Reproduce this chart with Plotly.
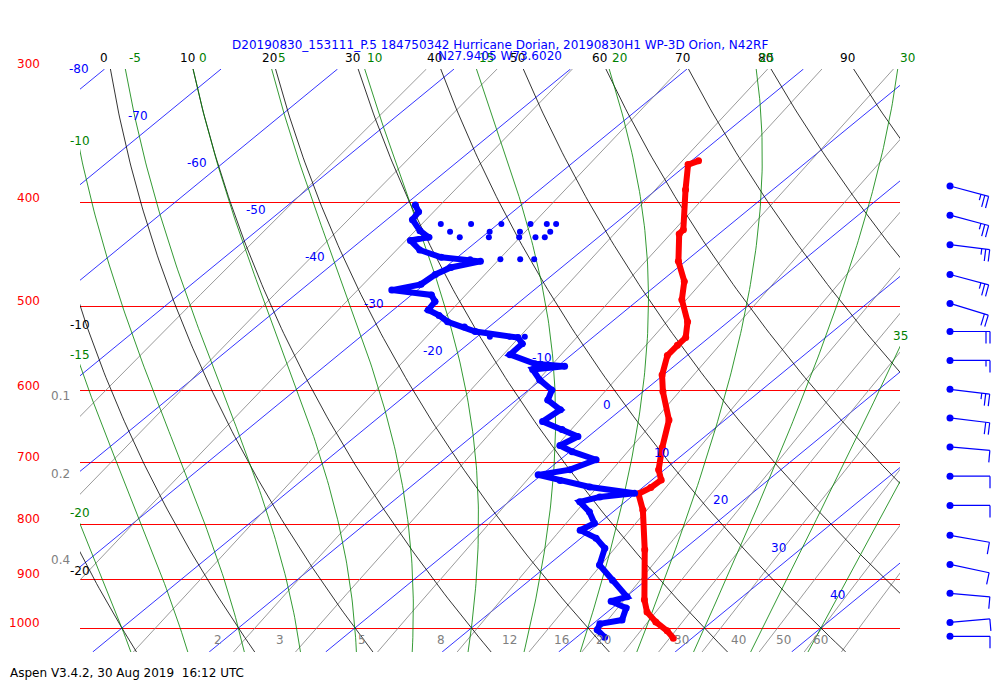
import numpy as np
import plotly.graph_objects as go

# ---- sounding data ----
temp_p = [365.6, 368.6, 389, 424, 428, 454, 474, 493, 517, 535, 544, 556, 580, 601, 639, 678,
          711, 727, 739, 749, 776, 845, 941, 966, 987, 1006, 1022]
temp_c = [-19.4, -19.9, -17.5, -13.5, -13.4, -10.6, -8.0, -6.3, -3.5, -2.0, -1.9, -1.7, -0.1, 1.7,
          5.2, 7.5, 9.5, 10.8, 10.7, 10.3, 12.4, 16.7, 21.9, 23.4, 25.2, 27.1, 28.4]

dewp_p = [1020, 1004, 991, 983, 958, 944, 935, 902, 873, 842, 824, 810, 798, 779, 762, 754, 748,
          738, 728, 719, 711, 696, 684, 675, 662, 652, 641, 625, 612, 599, 586, 573, 569, 566,
          555, 542, 535, 528, 523, 517, 510, 504, 495, 488, 483, 477, 467, 460, 454, 450,
          443, 434, 431, 425, 415, 408, 402]
dewp_c = [22.4, 21.0, 20.6, 22.1, 21.2, 19.2, 20.1, 17.1, 14.4, 13.1, 11.3, 9.1, 9.6, 8.0, 6.1,
          7.3, 9.9, 5.4, 2.2, -0.3, 1.9, 3.1, 0.2, -1.5, -0.9, -3.0, -5.5, -5.2, -7.3, -8.0, -10.1,
          -11.8, -9.4, -12.2, -15.3, -15.4, -16.4, -20.7, -22.1, -24.1, -25.5, -27.0, -27.3, -28.3,
          -32.2, -30.3, -30.1, -29.5, -27.6, -31.4, -34.0, -35.8, -34.6, -36.0, -37.8, -38.1, -39.1]

# scattered dewpoint samples in the dry layers
dots_p = [419, 419, 419, 419, 419, 419, 426, 426, 426, 426, 431, 431, 431, 431, 431, 431,
          452, 452, 452, 452, 534, 534, 534, 569]
dots_c = [-34.9, -32.3, -29.7, -27.2, -25.8, -25.0, -33.3, -29.9, -27.3, -24.7, -34.5, -31.9,
          -29.4, -26.8, -25.4, -24.6, -28.7, -26.1, -24.4, -23.2, -18.9, -17.2, -15.9, -11.1]

# winds (knots, direction from)
wind_p = [386, 411, 438, 467, 497, 528, 562, 598, 636, 677, 721, 768, 819, 872, 928, 988, 1018]
wind_dir = [105, 105, 97, 105, 107, 90, 90, 97, 97, 95, 90, 90, 100, 102, 95, 85, 90]
wind_spd = [25, 25, 25, 25, 20, 20, 15, 25, 20, 10, 10, 10, 10, 10, 10, 10, 10]

isobars = [300, 400, 500, 600, 700, 800, 900, 1000]
isotherms = list(range(-120, 61, 10))
iso_labels = list(range(-80, 41, 10))
dry_thetas = list(range(-40, 201, 10))
moist_thetas = list(range(-20, 41, 5))
mix_ratios = [0.1, 0.2, 0.4, 1, 2, 3, 5, 8, 12, 16, 20, 24, 30, 40, 50, 60]
mix_labels = [0.1, 0.2, 0.4, 2, 3, 5, 8, 12, 16, 20, 30, 40, 50, 60]

TITLE1 = "D20190830_153111_P.5 184750342 Hurricane Dorian, 20190830H1 WP-3D Orion, N42RF"
TITLE2 = "N27.9405 W73.6020"
FOOTER = "Aspen V3.4.2, 30 Aug 2019  16:12 UTC"

##### skew-T geometry #####
SKEW = 48.6
P_TOP, P_BOT = 300.0, 1053.0
X_MIN, X_MAX = -23.6, 46.8
FONT = "DejaVu Sans"


def skx(t, p):
    return np.asarray(t) + SKEW * np.log(1000.0 / np.asarray(p))


def sat_vp(tc):
    return 6.112 * np.exp(17.67 * tc / (tc + 243.5))


def moist_line(thw, ps):
    '''Integrate a pseudo-adiabat from 1000 hPa out to each pressure.'''
    Rd, cp, Lv, eps = 287.0, 1004.0, 2.5e6, 0.622
    res = np.empty_like(ps)
    for sel in (np.where(ps <= 1000)[0][::-1], np.where(ps > 1000)[0]):
        T, p = thw + 273.15, 1000.0
        for i in sel:
            lnstep = np.log(ps[i] / p) / 20.0
            for _ in range(20):
                es = sat_vp(T - 273.15)
                rs = eps * es / (p - es)
                T += (Rd * T + Lv * rs) / (cp + Lv * Lv * rs * eps / (Rd * T * T)) * lnstep
                p *= np.exp(lnstep)
            res[i] = T - 273.15
    return res


def mix_td(w, ps):
    e = w * ps / (622.0 + w)
    a = np.log(e / 6.112)
    return 243.5 * a / (17.67 - a)


def crossing(xs, ps, xedge):
    '''Pressure where a line crosses a vertical edge of the plot.'''
    d = xs - xedge
    for i in range(len(d) - 1):
        if d[i] == 0 or d[i] * d[i + 1] < 0:
            f = d[i] / (d[i] - d[i + 1])
            return np.exp(np.log(ps[i]) + f * (np.log(ps[i + 1]) - np.log(ps[i])))
    return None


def add_lines(fig, lines, color, width):
    xs, ys = [], []
    for x, p in lines:
        xs += list(x) + [None]
        ys += list(p) + [None]
    fig.add_trace(go.Scatter(x=xs, y=ys, mode='lines', line=dict(color=color, width=width),
                             hoverinfo='skip', showlegend=False))


def label(fig, text, x, p, color, **kw):
    fig.add_annotation(x=x, y=np.log10(p), text=text, showarrow=False,
                       font=dict(family=FONT, size=12, color=color), **kw)


ps = np.exp(np.linspace(np.log(P_TOP), np.log(P_BOT), 120))
fig = go.Figure()

# isotherms
add_lines(fig, [(skx(np.full(2, t), [P_TOP, P_BOT]), [P_TOP, P_BOT]) for t in isotherms], 'blue', 0.8)
# mixing ratio lines
mix = {w: skx(mix_td(w, ps), ps) for w in mix_ratios}
add_lines(fig, [(mix[w], ps) for w in mix_ratios], 'gray', 0.8)
# dry adiabats
dry = {th: skx((th + 273.15) * (ps / 1000.0) ** 0.2857 - 273.15, ps) for th in dry_thetas}
add_lines(fig, [(dry[th], ps) for th in dry_thetas], 'black', 0.8)
# moist adiabats
moist = {th: skx(moist_line(th, ps), ps) for th in moist_thetas}
add_lines(fig, [(moist[th], ps) for th in moist_thetas], 'green', 0.8)

# sounding
fig.add_trace(go.Scatter(x=skx(temp_c, temp_p), y=temp_p, mode='lines+markers',
                         line=dict(color='red', width=6), marker=dict(color='red', size=7),
                         showlegend=False))
fig.add_trace(go.Scatter(x=skx(dewp_c, dewp_p), y=dewp_p, mode='lines+markers',
                         line=dict(color='blue', width=6), marker=dict(color='blue', size=7),
                         showlegend=False))
fig.add_trace(go.Scatter(x=skx(dots_c, dots_p), y=dots_p, mode='markers',
                         marker=dict(color='blue', size=6), showlegend=False))

# wind barbs in a side panel, units there are pixels
PX_DEC = 1069.0
bx, by = [], []
for p, d, s in zip(wind_p, wind_dir, wind_spd):
    r = np.radians(d)
    ux, uy = np.sin(r), -np.cos(r)
    L = 40.0
    tipx, tipy = 50 + L * ux, L * uy
    bx += [50, tipx, None]
    by += [p, p * 10 ** (tipy / PX_DEC), None]
    n_full, half = int(s // 10), (s % 10) >= 5
    for k in range(n_full + (1 if half else 0)):
        ln = 12.0 if k < n_full else 6.0
        sx, sy = tipx - 4 * k * ux, tipy - 4 * k * uy
        ex, ey = sx - uy * ln, sy + ux * ln
        bx += [sx, ex, None]
        by += [p * 10 ** (sy / PX_DEC), p * 10 ** (ey / PX_DEC), None]
fig.add_trace(go.Scatter(x=bx, y=by, mode='lines', line=dict(color='blue', width=1.2),
                         xaxis='x2', yaxis='y2', showlegend=False, hoverinfo='skip'))
fig.add_trace(go.Scatter(x=[50] * len(wind_p), y=wind_p, mode='markers',
                         marker=dict(color='blue', size=7), xaxis='x2', yaxis='y2',
                         showlegend=False))

# labels
for p in isobars:
    fig.add_annotation(xref='paper', x=-0.041, y=np.log10(p), yshift=5, text=str(p),
                       xanchor='right', showarrow=False,
                       font=dict(family=FONT, size=12, color='red'))
for t in iso_labels:
    ypx = 69 + 4.7 * (t + 80) if t <= -20 else 405 + 4.75 * t
    lp = P_TOP * np.exp((ypx - 69) / 464.0)
    label(fig, str(t), float(skx(t, lp)), lp, 'blue', xanchor='right', xshift=-14)
for th in dry_thetas:
    x300 = dry[th][0]
    if X_MIN <= x300 <= X_MAX:
        label(fig, str(th), x300, P_TOP, 'black', yanchor='bottom', yshift=2, xshift=-6)
    elif x300 < X_MIN:
        pc = crossing(dry[th], ps, X_MIN)
        if pc and pc < 1000:
            label(fig, str(th), X_MIN, pc, 'black', yanchor='top', yshift=-10)
for th in moist_thetas:
    x300 = moist[th][0]
    if X_MIN <= x300 <= X_MAX:
        label(fig, str(th), x300, P_TOP, 'green', yanchor='bottom', yshift=2, xshift=10)
    elif x300 < X_MIN:
        pc = crossing(moist[th], ps, X_MIN)
        if pc and pc < 1000:
            label(fig, str(th), X_MIN, pc, 'green', yanchor='bottom', yshift=2)
    else:
        pc = crossing(moist[th], ps, X_MAX)
        if pc and th == 35:
            label(fig, str(th), X_MAX, pc, 'green', yanchor='bottom', yshift=2)
for w in mix_labels:
    xb = float(skx(mix_td(w, 1027.0), 1027.0))
    if xb > X_MIN:
        label(fig, '%g' % w, xb, 1027.0, 'gray', xanchor='right', xshift=-20)
    else:
        pc = crossing(mix[w], ps, X_MIN)
        if pc:
            label(fig, '%g' % w, X_MIN, pc, 'gray', xanchor='right', xshift=-8, yshift=20)

fig.add_annotation(xref='paper', yref='paper', x=0.457, y=1.0, yshift=33, text=TITLE1,
                   showarrow=False, font=dict(family=FONT, size=12, color='blue'))
fig.add_annotation(xref='paper', yref='paper', x=0.457, y=1.0, yshift=22, text=TITLE2,
                   showarrow=False, font=dict(family=FONT, size=12, color='blue'))
fig.add_annotation(xref='paper', yref='paper', x=-72 / 920.0, y=0, yshift=-30, xanchor='left',
                   text=FOOTER, showarrow=False, font=dict(family=FONT, size=12, color='black'))

# page body adds an 8 px margin, so the figure is 8 px smaller and shifted
yr = [np.log10(P_BOT), np.log10(P_TOP)]
fig.update_layout(
    width=992, height=692, margin=dict(l=72, r=0, t=61, b=48),
    paper_bgcolor='white', plot_bgcolor='white',
    xaxis=dict(range=[X_MIN, X_MAX], domain=[0, 820 / 920.0], showgrid=False, zeroline=False,
               showticklabels=False, ticks=''),
    yaxis=dict(type='log', range=yr, tickvals=isobars, showticklabels=False, showgrid=True,
               gridcolor='red', gridwidth=1, zeroline=False),
    xaxis2=dict(range=[0, 100], domain=[820 / 920.0, 1], visible=False),
    yaxis2=dict(type='log', range=yr, anchor='x2', visible=False),
)
fig.write_html("out.html")
